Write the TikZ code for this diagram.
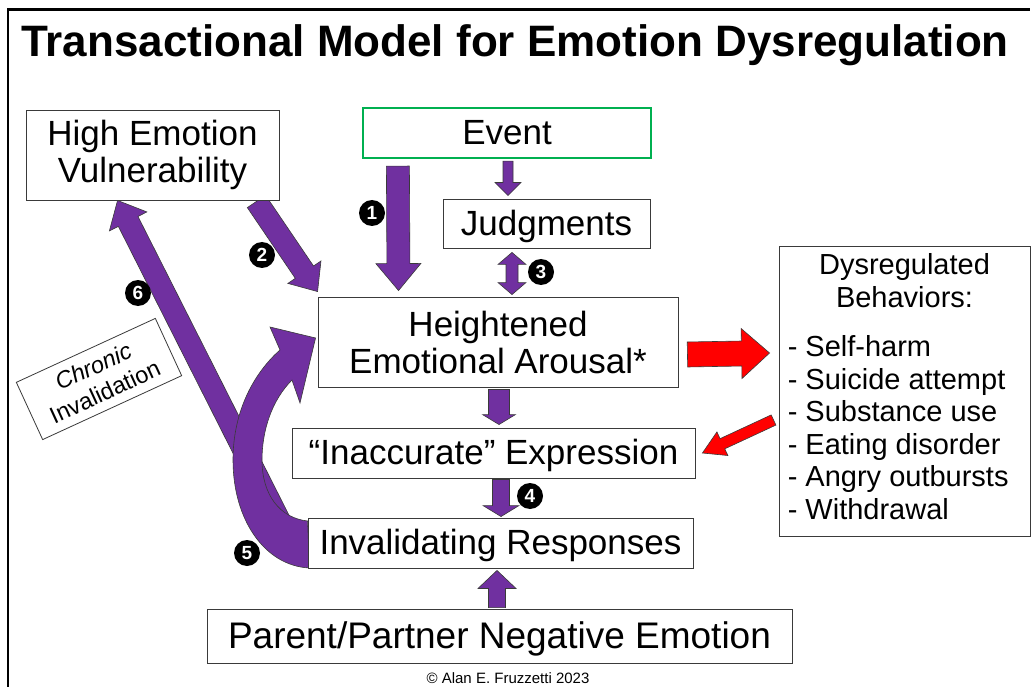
\documentclass[tikz,border=0pt]{standalone}
\usepackage{fontspec}
\setmainfont{Liberation Sans}
\usetikzlibrary{calc,backgrounds}
\definecolor{purp}{HTML}{7030A0}
\definecolor{grn}{HTML}{00B050}
\definecolor{outl}{HTML}{3A3A3A}
\definecolor{redarr}{HTML}{FF0000}
\newcommand{\blockarr}[6]{%
  \coordinate (bas) at #2;
  \coordinate (bat) at #3;
  \coordinate (bah) at ($(bat)!#6!(bas)$);
  \draw[#1] ($(bas)!#4!90:(bat)$) -- ($(bah)!#4!-90:(bas)$) -- ($(bah)!#5!-90:(bas)$) -- (bat) -- ($(bah)!#5!90:(bas)$) -- ($(bah)!#4!90:(bas)$) -- ($(bas)!#4!-90:(bat)$) -- cycle;
}
\newcommand{\dblarr}[6]{%
  \coordinate (daa) at #2;
  \coordinate (dab) at #3;
  \coordinate (daha) at ($(daa)!#6!(dab)$);
  \coordinate (dahb) at ($(dab)!#6!(daa)$);
  \draw[#1] (daa) -- ($(daha)!#5!90:(dab)$) -- ($(daha)!#4!90:(dab)$) -- ($(dahb)!#4!-90:(daa)$) -- ($(dahb)!#5!-90:(daa)$) -- (dab) -- ($(dahb)!#5!90:(daa)$) -- ($(dahb)!#4!90:(daa)$) -- ($(daha)!#4!-90:(dab)$) -- ($(daha)!#5!-90:(dab)$) -- cycle;
}
\begin{document}
\begin{tikzpicture}[x=1pt,y=-1pt,
  box/.style={draw=outl, line width=0.9pt, fill=white, inner sep=0pt, align=center, font=\fontsize{35}{37}\selectfont},
  onel/.style={text height=31pt, text depth=7.5pt},
  parr/.style={fill=purp, draw=outl, line width=0.6pt, line join=miter},
  rarr/.style={fill=redarr, draw=outl, line width=0.6pt, line join=miter},
  numc/.style={circle, fill=black, text=white, inner sep=0pt, minimum size=26pt, font=\bfseries\fontsize{19}{19}\selectfont},
  listtxt/.style={anchor=base west, inner sep=0pt, font=\fontsize{29}{33}\selectfont},
  headtxt/.style={anchor=base, inner sep=0pt, font=\fontsize{29}{33}\selectfont}]
\useasboundingbox (0,0) rectangle (1031,687);
\draw[line width=2.2pt] (8,687) -- (8,9.5) -- (1030,9.5);

\node[anchor=base, inner sep=0pt, font=\bfseries\fontsize{44}{45}\selectfont] (title) at (515,57) {Transactional Model for Emotion Dysregulation};

\node[box, minimum width=253pt, minimum height=90pt] (hev) at (152.5,155) {High Emotion\\Vulnerability};
\node[box, onel, draw=grn, line width=2.2pt, minimum width=288pt, minimum height=50pt] (event) at (507,133) {Event};
\node[box, onel, minimum width=207pt, minimum height=49pt] (judg) at (546.5,223.5) {Judgments};
\node[box, minimum width=360pt, minimum height=90pt] (hea) at (498,342) {Heightened\\Emotional Arousal*};
\node[box, onel, minimum width=403pt, minimum height=50pt] (inacc) at (493.5,453) {“Inaccurate” Expression};
\node[box, onel, minimum width=385pt, minimum height=50pt] (inval) at (500.5,543) {Invalidating Responses};
\node[box, minimum width=585pt, minimum height=54pt, text height=33pt, text depth=8pt, font=\fontsize{37}{39}\selectfont] (parent) at (499.5,636) {Parent/Partner Negative Emotion};
\node[box, minimum width=251pt, minimum height=290pt] (dys) at (904.5,391) {};
\node[headtxt] (dysh1) at ($(dys.north)+(0,29)$) {Dysregulated};
\node[headtxt] (dysh2) at ($(dys.north)+(0,62)$) {Behaviors:};
\foreach \t [count=\i] in {Self-harm, Suicide attempt, Substance use, Eating disorder, Angry outbursts, Withdrawal}
  \node[listtxt] (dl\i) at ($(dys.north west)+(9,{111+32.6*(\i-1)})$) {- \t};

\node[draw=outl, line width=0.8pt, fill=white, rotate=24.7, minimum width=153pt, minimum height=63pt, inner sep=0pt, align=center, font=\fontsize{23.5}{28}\selectfont] (chron) at (99,379) {\textit{Chronic}\\Invalidation};

\node[anchor=base, inner sep=0pt, font=\fontsize{15}{15}\selectfont] (copy) at (508,683) {© Alan E. Fruzzetti 2023};

\begin{pgfonlayer}{background}
  \fill[white] (0,0) rectangle (1031,687);
  \blockarr{parr}{($(inval.south west)+(-10,-12)$)}{($(hev.south west)+(92,0)$)}{11pt}{21pt}{23.5pt}
  \coordinate (c5o) at ($(inval.west)+(2,25)$);
  \coordinate (c5i) at ($(inval.west)+(0,-22)$);
  \coordinate (c5t) at ($(hea.west)+(-2,-4)$);
  \draw[parr] (c5o) .. controls (265,566) and (233,520) .. (233,460) .. controls (233,410) and (255,372) .. (280,350) -- (270,327) -- (c5t) -- (300,403) -- (292,380) .. controls (272,400) and (262,430) .. (262,460) .. controls (262,495) and (280,518) .. (c5i) -- cycle;
  \blockarr{parr}{($(event.south west)+(36,7)$)}{($(hea.north west)+(81,-6)$)}{11.5pt}{22.5pt}{27pt}
  \blockarr{parr}{($(event.south)+(1,2)$)}{($(judg.north)+(-38.5,-3)$)}{5pt}{13pt}{13pt}
  \dblarr{parr}{($(judg.south)+(-34.5,4)$)}{($(hea.north)+(14,-2)$)}{6pt}{14pt}{12pt}
  \blockarr{parr}{($(hea.south)+(1,2)$)}{($(inacc.north)+(5.5,-3)$)}{10.5pt}{16.5pt}{10pt}
  \blockarr{parr}{($(inacc.south)+(7.5,1)$)}{($(inval.north)+(0.5,-1)$)}{8.5pt}{18pt}{11pt}
  \blockarr{parr}{($(parent.north)+(-2.5,-1)$)}{($(inval.south)+(-3.5,2)$)}{8.5pt}{19pt}{18pt}
  \blockarr{parr}{($(hev.south east)+(-23,1)$)}{($(hea.north west)+(0,-5)$)}{11pt}{20pt}{23.4pt}
  \blockarr{rarr}{($(hea.east)+(9,12.5)$)}{($(dys.west)+(-9,-38)$)}{12.5pt}{25pt}{28pt}
  \blockarr{rarr}{($(dys.west)+(-5,29)$)}{($(inacc.east)+(7,0)$)}{5.6pt}{13pt}{22pt}
\end{pgfonlayer}

\node[numc] (n1) at (372,213) {1};
\node[numc] (n2) at (262,255) {2};
\node[numc] (n3) at (541,272) {3};
\node[numc] (n4) at (530,496) {4};
\node[numc] (n5) at (247,553) {5};
\node[numc] (n6) at (138,293) {6};
\end{tikzpicture}
\end{document}
